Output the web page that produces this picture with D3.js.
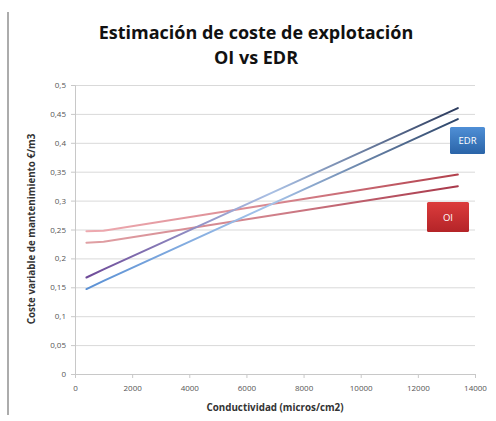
<!DOCTYPE html>
<html>
<head>
<meta charset="utf-8">
<script src="https://cdn.jsdelivr.net/npm/d3@7"></script>
<style>
  body { margin: 0; background: #fff; }
  svg { display: block; }
  .tick text { font-family: "Open Sans", sans-serif; font-size: 8px; fill: #555; }
  .label { font-family: "Open Sans", sans-serif; font-weight: bold; font-size: 9.8px; fill: #333; }
</style>
</head>
<body>
<svg id="chart" width="496" height="421"></svg>
<script>
  // data
  const conductividad = [400, 1000, 13400];
  const edrPurple = [0.167, 0.181, 0.460];
  const edrBlue = [0.147, 0.161, 0.441];
  const oiUpper = [0.247, 0.248, 0.345];
  const oiLower = [0.227, 0.229, 0.325];
  const xTicks = [0, 2000, 4000, 6000, 8000, 10000, 12000, 14000];
  const yTicks = [0, 0.05, 0.1, 0.15, 0.2, 0.25, 0.3, 0.35, 0.4, 0.45, 0.5];

  const series = [
    { name: 'oiUpper', values: oiUpper, stops: ['#eeaab0', '#d98890', '#b2404c'] },
    { name: 'oiLower', values: oiLower, stops: ['#e0a0a4', '#d0808a', '#a8384a'] },
    { name: 'edrPurple', values: edrPurple, stops: ['#6e4a98', '#a9c0e4', '#2b3a5c'] },
    { name: 'edrBlue', values: edrBlue, stops: ['#5a90d4', '#a6c4ea', '#2c4468'] }
  ];

  const svg = d3.select('#chart');
  const plotLeft = 75, plotRight = 475, plotTop = 85, plotBottom = 374;

  const x = d3.scaleLinear().domain([0, 14000]).range([plotLeft, plotRight]);
  const y = d3.scaleLinear().domain([0, 0.5]).range([plotBottom, plotTop]);
  const fmt = d => String(d).replace('.', ',');

  // border line at the left
  svg.append('line')
    .attr('x1', 8).attr('x2', 8).attr('y1', 12).attr('y2', 415)
    .attr('stroke', '#909090').attr('stroke-width', 1.5);

  // horizontal grid lines
  svg.append('g')
    .attr('transform', `translate(${plotLeft}, 0)`)
    .call(d3.axisLeft(y).tickValues(yTicks).tickSize(-(plotRight - plotLeft)).tickFormat(''))
    .call(g => g.select('.domain').remove())
    .call(g => g.selectAll('line').attr('stroke', '#d9d9d9'));

  // y axis
  svg.append('g')
    .attr('transform', `translate(${plotLeft}, 0)`)
    .call(d3.axisLeft(y).tickValues(yTicks).tickSize(4).tickPadding(5).tickFormat(fmt))
    .call(g => g.select('.domain').attr('stroke', '#c8c8c8'))
    .call(g => g.selectAll('.tick line').attr('stroke', '#c8c8c8'));

  // x axis
  svg.append('g')
    .attr('transform', `translate(0, ${plotBottom})`)
    .call(d3.axisBottom(x).tickValues(xTicks).tickSize(4).tickPadding(7).tickFormat(d => d))
    .call(g => g.select('.domain').attr('stroke', '#c8c8c8'))
    .call(g => g.selectAll('.tick line').attr('stroke', '#c8c8c8'));

  // gradient strokes
  const defs = svg.append('defs');
  series.forEach(s => {
    const gr = defs.append('linearGradient')
      .attr('id', 'g-' + s.name)
      .attr('gradientUnits', 'userSpaceOnUse')
      .attr('x1', x(conductividad[0])).attr('x2', x(conductividad[conductividad.length - 1]))
      .attr('y1', 0).attr('y2', 0);
    gr.selectAll('stop').data(s.stops).enter().append('stop')
      .attr('offset', (d, i) => i / (s.stops.length - 1))
      .attr('stop-color', d => d);
  });

  const line = d3.line()
    .x((d, i) => x(conductividad[i]))
    .y(d => y(d));

  svg.append('g').selectAll('path')
    .data(series)
    .enter()
    .append('path')
    .attr('d', s => line(s.values))
    .attr('fill', 'none')
    .attr('stroke', s => `url(#g-${s.name})`)
    .attr('stroke-width', 2)
    .attr('stroke-linecap', 'round');

  // label boxes
  const boxGrad = defs.append('linearGradient').attr('id', 'box-edr').attr('x1', 0).attr('x2', 0).attr('y1', 0).attr('y2', 1);
  boxGrad.append('stop').attr('offset', 0).attr('stop-color', '#4f8fd6');
  boxGrad.append('stop').attr('offset', 1).attr('stop-color', '#2a64a8');
  const boxGrad2 = defs.append('linearGradient').attr('id', 'box-oi').attr('x1', 0).attr('x2', 0).attr('y1', 0).attr('y2', 1);
  boxGrad2.append('stop').attr('offset', 0).attr('stop-color', '#dc3c3c');
  boxGrad2.append('stop').attr('offset', 1).attr('stop-color', '#b42428');

  const boxes = [
    { text: 'EDR', x: 450, y: 127, w: 35, h: 27, fill: 'url(#box-edr)' },
    { text: 'OI', x: 427, y: 202, w: 42, h: 30, fill: 'url(#box-oi)' }
  ];
  const bg = svg.append('g').selectAll('g').data(boxes).enter().append('g');
  bg.append('rect')
    .attr('x', d => d.x).attr('y', d => d.y)
    .attr('width', d => d.w).attr('height', d => d.h)
    .attr('rx', 1.5)
    .attr('fill', d => d.fill);
  bg.append('text')
    .attr('x', d => d.x + d.w / 2).attr('y', d => d.y + d.h / 2 + 3.5)
    .attr('text-anchor', 'middle')
    .attr('fill', '#fff')
    .style('font-family', '"Open Sans", sans-serif')
    .style('font-size', '9.5px')
    .text(d => d.text);

  // title
  const title = svg.append('text')
    .attr('text-anchor', 'middle')
    .style('font-family', '"Open Sans", sans-serif')
    .style('font-weight', 'bold')
    .style('font-size', '18px')
    .attr('fill', '#111');
  title.append('tspan').attr('x', 256).attr('y', 39).text('Estimación de coste de explotación');
  title.append('tspan').attr('x', 256).attr('y', 64).text('OI vs EDR');

  // axis labels
  svg.append('text')
    .attr('class', 'label')
    .attr('transform', 'translate(35, 229) rotate(-90)')
    .attr('text-anchor', 'middle')
    .text('Coste variable de mantenimiento  €/m3');

  svg.append('text')
    .attr('class', 'label')
    .attr('x', 275)
    .attr('y', 411)
    .attr('text-anchor', 'middle')
    .text('Conductividad (micros/cm2)');
</script>
</body>
</html>
